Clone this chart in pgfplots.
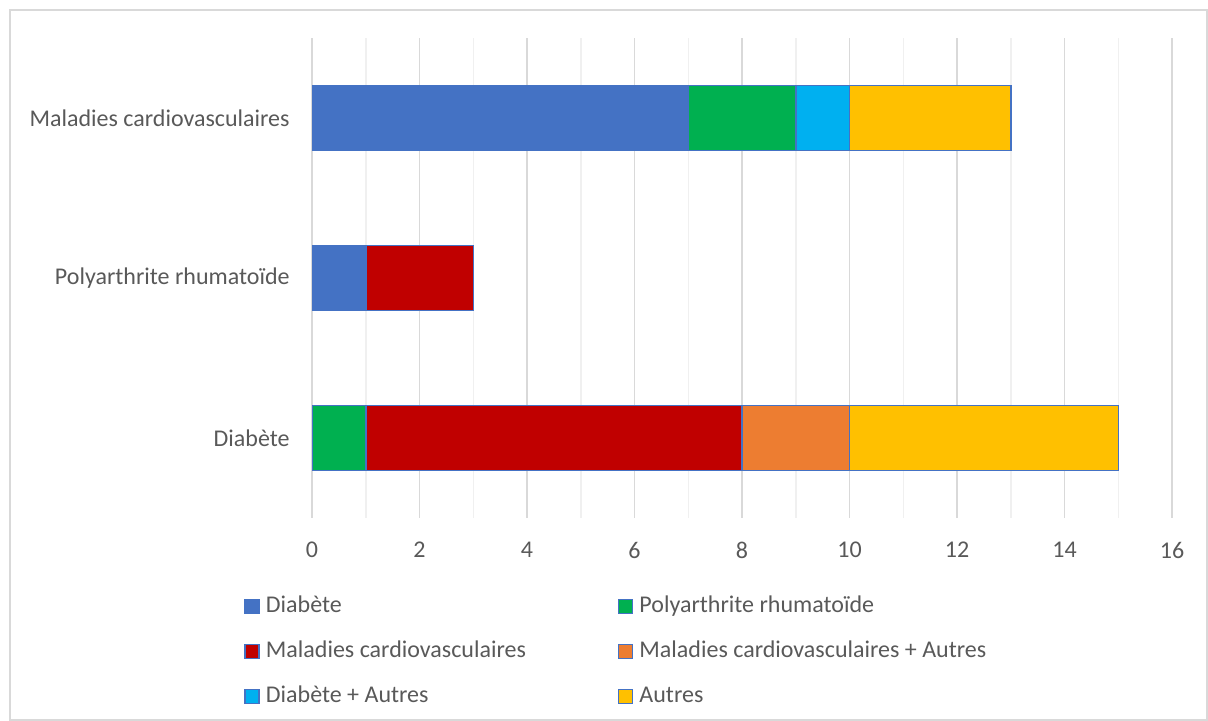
\documentclass[border=0pt]{standalone}
\usepackage{pgfplots}
\pgfplotsset{compat=1.18}
\usepackage{fontspec}
\setmainfont{Carlito}
\definecolor{cDia}{HTML}{4472C4}
\definecolor{cPol}{HTML}{00B050}
\definecolor{cMC}{HTML}{C00000}
\definecolor{cMCA}{HTML}{ED7D31}
\definecolor{cDA}{HTML}{00B0F0}
\definecolor{cAut}{HTML}{FFC000}
\definecolor{txt}{HTML}{595959}
\begin{document}
\begin{tikzpicture}
\useasboundingbox (0,0) rectangle (604pt,360.5pt);
\draw[color=black!15, line width=0.6pt] (5pt,0.5pt) rectangle (603.5pt,355.5pt);
\begin{axis}[
  at={(156pt,101.5pt)}, anchor=south west,
  scale only axis, width=430pt, height=240pt,
  xbar stacked, bar width=32.5pt,
  xmin=0, xmax=16, ymin=-0.5, ymax=2.5,
  xtick={0,2,...,16}, minor x tick num=1,
  ytick={0,1,2},
  yticklabels={Diabète, Polyarthrite rhumatoïde, Maladies cardiovasculaires},
  axis line style={draw=none},
  major tick length=0pt, minor tick length=0pt,
  xmajorgrids, xminorgrids, ymajorgrids=false,
  major grid style={color=black!15, line width=0.75pt},
  minor grid style={color=black!6, line width=0.75pt},
  extra x ticks={0}, extra x tick labels={},
  extra x tick style={grid style={color=black!22, line width=0.9pt}},
  /pgf/number format/assume math mode=true,
  tick label style={font=\fontsize{12}{14}\selectfont, color=txt},
  xticklabel style={anchor=center, yshift=-16pt, inner sep=0pt},
  yticklabel style={anchor=east, xshift=-11pt, inner sep=0pt},
  legend columns=2,
  legend cell align=left,
  legend style={at={(0,0)}, anchor=north west, xshift=-37pt, yshift=-36pt,
    draw=none, fill=none, font=\fontsize{12}{14}\selectfont, text=txt,
    row sep=10.5pt,
    nodes={inner sep=0pt, text height=9pt, text depth=3pt},
    /tikz/every odd column/.append style={column sep=3pt},
    /tikz/every even column/.append style={column sep=46pt}},
  legend image code/.code={\draw[#1, line width=0.75pt] (0.5pt,-3.5pt) rectangle (7.5pt,3.5pt);},
  every axis plot/.append style={draw=cDia, line width=0.75pt},
]
\addplot[fill=cDia, draw=cDia] coordinates {(0,0) (1,1) (7,2)};
\addlegendentry{Diabète}
\addplot[fill=cPol, draw=cDia] coordinates {(1,0) (0,1) (2,2)};
\addlegendentry{Polyarthrite rhumatoïde}
\addplot[fill=cMC, draw=cDia] coordinates {(7,0) (2,1) (0,2)};
\addlegendentry{Maladies cardiovasculaires}
\addplot[fill=cMCA, draw=cDia] coordinates {(2,0) (0,1) (0,2)};
\addlegendentry{Maladies cardiovasculaires + Autres}
\addplot[fill=cDA, draw=cDia] coordinates {(0,0) (0,1) (1,2)};
\addlegendentry{Diabète + Autres}
\addplot[fill=cAut, draw=cDia] coordinates {(5,0) (0,1) (3,2)};
\addlegendentry{Autres}
\end{axis}
\end{tikzpicture}
\end{document}
